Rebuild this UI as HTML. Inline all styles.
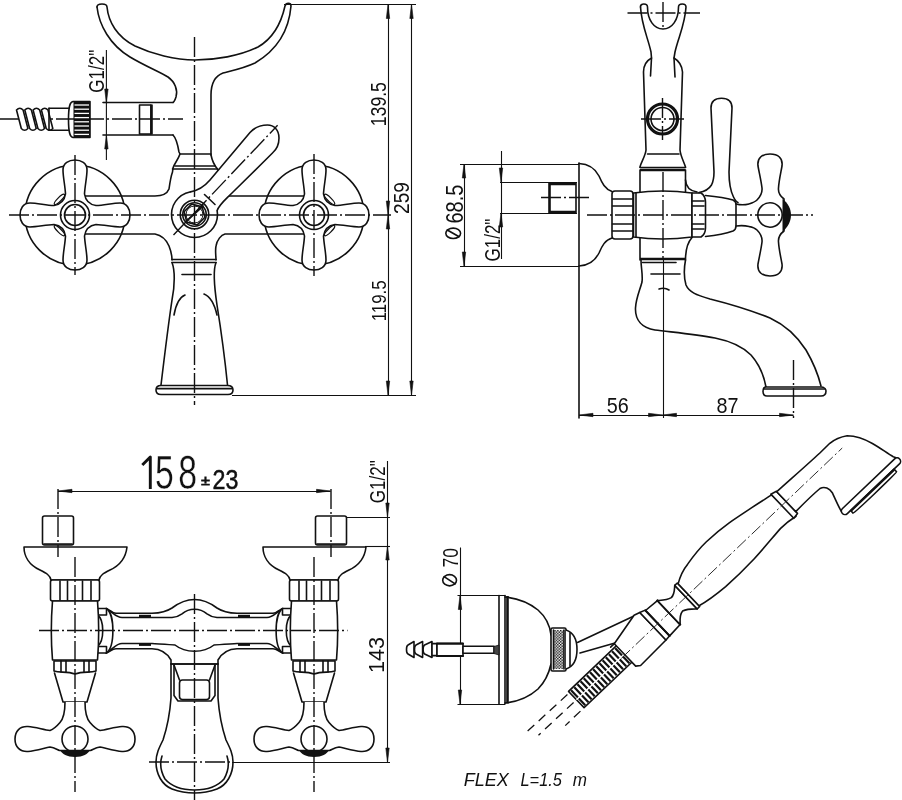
<!DOCTYPE html>
<html><head><meta charset="utf-8"><style>
html,body{margin:0;padding:0;background:#fff;width:902px;height:800px;overflow:hidden}
svg{display:block;filter:grayscale(1)}

.l{fill:none;stroke:#111;stroke-width:1.6;stroke-linejoin:round;stroke-linecap:round}
.lw{fill:#fff;stroke:#111;stroke-width:1.6;stroke-linejoin:round}
.t{fill:none;stroke:#111;stroke-width:2.6}
.wl{stroke:#fff;stroke-width:1.3}
.d{fill:none;stroke:#111;stroke-width:1.1}
.c{fill:none;stroke:#111;stroke-width:1.4;stroke-dasharray:20 3 2 3}
.cd{fill:none;stroke:#222;stroke-width:1;stroke-dasharray:7 3}
.ar{fill:#111;stroke:#111;stroke-width:0.6}
.fd{fill:none;stroke:#111;stroke-width:1.3;stroke-dasharray:9 6}
.cd2{fill:none;stroke:#222;stroke-width:0.9;stroke-dasharray:12 3 2 3}
.txb{font-family:"Liberation Sans",sans-serif;fill:#111;stroke:#fff;stroke-width:0.4}
.tx{font-family:"Liberation Sans",sans-serif;fill:#111}

</style></head><body>
<svg width="902" height="800" viewBox="0 0 902 800">
<rect width="902" height="800" fill="#fff"/>
<line x1="0" y1="119" x2="183" y2="119" class="c" />
<path d="M97,7 C97,3 107,3 107,7 C108.5,22 117,37 135,46 C152,54 175,60 195,60 C215,60 240,56 258,47 C272,39 281,24 285,6 C286,2.5 291,2.5 291,6 C289,30 277,50 255,63 C242,69 230,71 223,73 C215,76 211,84 211,95 L211,155" class="l" />
<path d="M97,7 C99,25 110,45 130,57 C145,66 160,72 168,77 C175,82 178,90 176,97 C175,100 174,102 173,102.5" class="l" />
<line x1="103" y1="102.5" x2="173" y2="102.5" class="l" />
<line x1="103" y1="135" x2="173" y2="135" class="l" />
<rect x="139.5" y="105" width="11.5" height="29" class="l"/>
<line x1="151.5" y1="104.5" x2="151.5" y2="134.5" class="t" />
<path d="M173,135 C176,138 178,146 179,152 L180,154 C178,160 174,164 173,168 L172.5,172 C171,176 170,182 169,189 C167,194 162,196 155,196 L75,196" class="l" />
<line x1="180" y1="154" x2="211" y2="154" class="l" />
<line x1="175" y1="166" x2="215" y2="166" class="l" />
<line x1="172.5" y1="169" x2="217.5" y2="169" class="l" />
<path d="M211,155 C212,160 214,165 217.5,169 L219,175" class="l" />
<path d="M215,196 L305,196" class="l" />
<path d="M75,234 L155,234 C160,235 166,239 169,246 C171,251 172,256 172,260" class="l" />
<path d="M305,234 L225,234 C221,235 217,240 216,246 C215,251 216,256 216,260" class="l" />
<circle cx="194.5" cy="214.5" r="23" class="lw" />
<path d="M190.5,191.85 C198,190.5 204,187 210,180 L250,132.5 C255,127 260,125 267.5,125 C274,125 279,130 279,138 C279,145 276,150 272.5,153 L232,193 C224,201 219,205 217.15,210.5 L194.5,214.5 Z" fill="#fff" stroke="none"/>
<path d="M190.5,191.85 C198,190.5 204,187 210,180 L250,132.5 C255,127 260,125 267.5,125 C274,125 279,130 279,138 C279,145 276,150 272.5,153 L232,193 C224,201 219,205 217.15,210.5" class="l" />
<line x1="204.5" y1="194.5" x2="215" y2="204.5" class="l" />
<circle cx="194.5" cy="214.5" r="14.25" class="l" />
<circle cx="194.5" cy="214.5" r="11.75" class="l" />
<polygon points="204.93,217.3 197.3,224.93 186.86,222.14 184.07,211.7 191.7,204.07 202.14,206.86" class="l"/>
<circle cx="194.5" cy="214.5" r="8.5" class="l" style="stroke-width:1"/>
<line x1="173.5" y1="235" x2="277.6" y2="125.3" class="c" />
<line x1="186" y1="221.5" x2="203" y2="206" class="l" style="stroke-width:1.8"/>
<circle cx="75" cy="215" r="50" class="l" />
<ellipse cx="59.44" cy="199.44" rx="7" ry="1.9" transform="rotate(315 59.44 199.44)" class="l" style="stroke-width:1.3"/>
<ellipse cx="59.44" cy="230.56" rx="7" ry="1.9" transform="rotate(225 59.44 230.56)" class="l" style="stroke-width:1.3"/>
<path d="M84.5,194 C85,185 87,177 87,170 C87,163 81,160 75,160 C69,160 63,163 63,170 C63,177 65,185 65.5,194 Q64,204 54,205.5 C45,205 37,203 30,203 C23,203 20,209 20,215 C20,221 23,227 30,227 C37,227 45,225 54,224.5 Q64,226 65.5,236 C65,245 63,253 63,260 C63,267 69,270 75,270 C81,270 87,267 87,260 C87,253 85,245 84.5,236 Q86,226 96,224.5 C105,225 113,227 120,227 C127,227 130,221 130,215 C130,209 127,203 120,203 C113,203 105,205 96,205.5 Q86,204 84.5,194 Z" class="lw" />
<circle cx="75" cy="215" r="14.5" class="l" />
<circle cx="75" cy="215" r="10.5" class="l" />
<circle cx="314" cy="215" r="50" class="l" />
<ellipse cx="329.56" cy="199.44" rx="7" ry="1.9" transform="rotate(405 329.56 199.44)" class="l" style="stroke-width:1.3"/>
<ellipse cx="329.56" cy="230.56" rx="7" ry="1.9" transform="rotate(135 329.56 230.56)" class="l" style="stroke-width:1.3"/>
<path d="M323.5,194 C324,185 326,177 326,170 C326,163 320,160 314,160 C308,160 302,163 302,170 C302,177 304,185 304.5,194 Q303,204 293,205.5 C284,205 276,203 269,203 C262,203 259,209 259,215 C259,221 262,227 269,227 C276,227 284,225 293,224.5 Q303,226 304.5,236 C304,245 302,253 302,260 C302,267 308,270 314,270 C320,270 326,267 326,260 C326,253 324,245 323.5,236 Q325,226 335,224.5 C344,225 352,227 359,227 C366,227 369,221 369,215 C369,209 366,203 359,203 C352,203 344,205 335,205.5 Q325,204 323.5,194 Z" class="lw" />
<circle cx="314" cy="215" r="14.5" class="l" />
<circle cx="314" cy="215" r="10.5" class="l" />
<line x1="172" y1="259.5" x2="216" y2="259.5" class="l" />
<line x1="172" y1="262.5" x2="216" y2="262.5" class="l" />
<line x1="182" y1="274.5" x2="211" y2="274.5" class="l" />
<path d="M172,262.5 C175,270 175,285 172,300 C169,320 164,360 161,385" class="l" />
<path d="M216,262.5 C213,270 214,285 217,305 C221,330 225,360 227.5,385" class="l" />
<path d="M185,295 C180,297 176,304 174,315" class="l" />
<path d="M204,294 C209,296 214,302 217,315" class="l" />
<path d="M161,385.5 C157.5,385.5 156,387.5 156,390 C156,392.5 157.5,394.5 161,394.5 L228,394.5 C231.5,394.5 233,392.5 233,390 C233,387.5 231,385.5 227.5,385.5 Z" class="l" />
<line x1="157" y1="388.6" x2="232" y2="388.6" class="l" />
<line x1="9" y1="215" x2="391" y2="215" class="c" />
<line x1="194.5" y1="37" x2="194.5" y2="405" class="c" />
<line x1="75" y1="155" x2="75" y2="275" class="c" />
<line x1="314" y1="154" x2="314" y2="276" class="c" />
<path d="M16.5,110 Q19.8,106.5 23.1,110 L27.9,128.5 Q24.6,132 21.3,128.5 Z" class="lw"/>
<path d="M24.8,110 Q28.1,106.5 31.4,110 L36.2,128.5 Q32.9,132 29.6,128.5 Z" class="lw"/>
<path d="M33.1,110 Q36.4,106.5 39.7,110 L44.5,128.5 Q41.2,132 37.9,128.5 Z" class="lw"/>
<path d="M41.4,110 Q44.7,106.5 48,110 L52.8,128.5 Q49.5,132 46.2,128.5 Z" class="lw"/>
<line x1="49" y1="108.2" x2="68.5" y2="108.2" class="l" />
<line x1="49" y1="130.2" x2="68.5" y2="130.2" class="l" />
<line x1="49" y1="108.2" x2="49" y2="130.2" class="l" />
<path d="M73,101.5 C70,102 68.5,106 68.5,119.5 C68.5,133 70,137 73,137.5 L90,137.5 L90,101.5 Z" class="l"/>
<rect x="73.5" y="101.5" width="16.5" height="36" fill="#111"/>
<line x1="74.5" y1="105" x2="89" y2="105" class="wl" />
<line x1="74.5" y1="109.2" x2="89" y2="109.2" class="wl" />
<line x1="74.5" y1="113.4" x2="89" y2="113.4" class="wl" />
<line x1="74.5" y1="117.6" x2="89" y2="117.6" class="wl" />
<line x1="74.5" y1="121.8" x2="89" y2="121.8" class="wl" />
<line x1="74.5" y1="126" x2="89" y2="126" class="wl" />
<line x1="74.5" y1="130.2" x2="89" y2="130.2" class="wl" />
<line x1="74.5" y1="134.4" x2="89" y2="134.4" class="wl" />
<line x1="106.4" y1="50" x2="106.4" y2="160" class="d" />
<path d="M106.4,103 L104.7,89 L108.1,89 Z" class="ar"/>
<path d="M106.4,135 L108.1,149 L104.7,149 Z" class="ar"/>
<line x1="103" y1="102.5" x2="108" y2="102.5" class="d" />
<text transform="translate(104,92.65) rotate(-90) scale(0.762,1)" font-size="22.3" text-anchor="start" class="tx" >G1/2"</text>
<line x1="284" y1="4.5" x2="416" y2="4.5" class="d" />
<line x1="232" y1="395.5" x2="416" y2="395.5" class="d" />
<line x1="388.5" y1="4.5" x2="388.5" y2="395" class="d" />
<line x1="411.5" y1="4.5" x2="411.5" y2="395" class="d" />
<path d="M388,4.5 L389.7,18.5 L386.3,18.5 Z" class="ar"/>
<path d="M388,215 L386.3,201 L389.7,201 Z" class="ar"/>
<path d="M388,215 L389.7,229 L386.3,229 Z" class="ar"/>
<path d="M388,395 L386.3,381 L389.7,381 Z" class="ar"/>
<path d="M411.5,4.5 L413.2,18.5 L409.8,18.5 Z" class="ar"/>
<path d="M411.5,395 L409.8,381 L413.2,381 Z" class="ar"/>
<text transform="translate(385.5,126.2) rotate(-90) scale(0.784,1)" font-size="22.5" text-anchor="start" class="tx" >139.5</text>
<text transform="translate(386,321.35) rotate(-90) scale(0.8,1)" font-size="21.1" text-anchor="start" class="tx" >119.5</text>
<text transform="translate(409,213.95) rotate(-90) scale(0.88,1)" font-size="21.7" text-anchor="start" class="tx" >259</text>
<line x1="579" y1="163" x2="579" y2="418" class="l" />
<line x1="460" y1="164.5" x2="579" y2="164.5" class="d" />
<line x1="460" y1="266.5" x2="579" y2="266.5" class="d" />
<line x1="464.5" y1="164" x2="464.5" y2="266" class="d" />
<path d="M464,164 L465.7,178 L462.3,178 Z" class="ar"/>
<path d="M464,266 L462.3,252 L465.7,252 Z" class="ar"/>
<text transform="translate(462.5,223.5) rotate(-90) scale(0.835,1)" font-size="23.9" text-anchor="start" class="tx" >68.5</text>
<ellipse cx="453.2" cy="233.3" rx="7.4" ry="5.2" class="l" style="stroke-width:1.6"/>
<line x1="447.28" y1="229.92" x2="459.12" y2="236.68" class="l" style="stroke-width:1.7"/>
<line x1="500" y1="182.5" x2="577" y2="182.5" class="d" />
<line x1="500" y1="213.5" x2="577" y2="213.5" class="d" />
<line x1="501.5" y1="151" x2="501.5" y2="259" class="d" />
<path d="M501,182 L499.3,168 L502.7,168 Z" class="ar"/>
<path d="M501,213 L502.7,227 L499.3,227 Z" class="ar"/>
<text transform="translate(500,261.45) rotate(-90) scale(0.762,1)" font-size="22.3" text-anchor="start" class="tx" >G1/2"</text>
<path d="M576,184 L549.5,184 L549.5,212 L576,212" fill="none" stroke="#111" stroke-width="2.6"/>
<line x1="576" y1="183" x2="576" y2="213" class="l" />
<line x1="541" y1="197.5" x2="590" y2="197.5" class="c" />
<path d="M579,163.5 C588,164 595,168 599,176 C602,183 605,189 612,191.5" class="l" />
<path d="M579,266 C588,265.5 595,261 599,253 C602,246 605,240 612,238" class="l" />
<rect x="612" y="191" width="21" height="48" rx="3" class="lw"/>
<line x1="612.5" y1="199" x2="632.5" y2="199" class="l" />
<line x1="612.5" y1="206" x2="632.5" y2="206" class="l" />
<line x1="612.5" y1="224" x2="632.5" y2="224" class="l" />
<line x1="612.5" y1="231" x2="632.5" y2="231" class="l" />
<path d="M640.5,7 C640,3 647.5,3 647.5,7 C647.5,20 654,29 663,29 C672,29 678.5,20 678.5,7 C678.5,3 686,3 686,7 C685,25 678,38 675,52 L674,58 C679,61 682,65 682.5,72 L680,150 C680.5,156 684,162 685.5,167" class="l" />
<path d="M640.5,7 C641.5,25 648,38 651,52 L651.5,58 C646,61 643.5,65 643.5,72 L646,150 C645.5,156 641,162 640,167" class="l" />
<line x1="651.5" y1="58" x2="650.5" y2="76" class="l" />
<line x1="674" y1="58" x2="675" y2="77" class="l" />
<circle cx="662.5" cy="119" r="15" class="l" style="stroke-width:3.2"/>
<circle cx="662.5" cy="119" r="11.5" class="l" />
<line x1="647.5" y1="154" x2="679" y2="154" class="l" />
<line x1="640" y1="167.5" x2="685.5" y2="167.5" class="l" />
<line x1="640" y1="170" x2="685.5" y2="170" class="t" />
<line x1="640" y1="170" x2="640" y2="260" class="l" />
<line x1="685.5" y1="170" x2="685.5" y2="192" class="l" />
<path d="M685.5,180 C686,187 690,191 697,192" class="l" />
<path d="M692,237.5 C688,242 685.5,249 685.5,260" class="l" />
<line x1="640" y1="259" x2="685.5" y2="259" class="t" />
<path d="M633.5,193 C655,190 670,190 692,193 L692,237 C670,240 655,240 633.5,237 Z" class="lw"/>
<line x1="636" y1="193" x2="636" y2="237" class="l" />
<path d="M692,193 L701,193 C704,195 705.5,198 705.5,202 L705.5,228 C705.5,232 704,235 701,237 L692,237 Z" class="lw"/>
<line x1="692" y1="201" x2="704" y2="201" class="l" />
<line x1="692" y1="206" x2="704" y2="206" class="l" />
<line x1="692" y1="224" x2="704" y2="224" class="l" />
<line x1="692" y1="229" x2="704" y2="229" class="l" />
<path d="M705.5,195.5 C715,196.5 726,198 733,200 C735,201 736,202 736,204 L736,226 C736,228 735,230 733,231 C726,233.5 715,235.5 705.5,236.5" class="l" />
<path d="M736,204 C740,205 745,205 749,204" class="l" />
<path d="M736,226 C740,225.5 745,225.5 749,226.5" class="l" />
<path d="M699,192.5 C705,191.5 709,189 711.5,185 C713.5,181 714,177 714,172 L711,108 C711,101 715,98.3 721.5,98.3 C728,98.3 732,101 732,108 L729,172 C729,180 730,190 733.5,197 C735,200 736.5,202 738,202.5" class="l" />
<path d="M749,204 C752,203 755,202 757,200 C761,196 762.5,193 762,188 C761,180 759,172 758,166 C757,158 762,154 770,154 C778,154 783,158 782,166 C781,172 779,180 778.5,188 C778,193 780,196 784,199 L784,231 C780,234 778,237 778.5,242 C779,250 781,258 782,264 C783,272 778,276 770,276 C762,276 757,272 758,264 C759,258 761,250 762,242 C762.5,237 761,234 757,230 C755,228 752,227 749,226.5" class="lw"/>
<circle cx="770" cy="215" r="12.2" class="l" />
<path d="M782.5,199 C788,203 791,209 791,215 C791,221 788,227 782.5,232 Z" fill="#111"/>
<line x1="642.5" y1="262.5" x2="676" y2="262.5" class="l" />
<line x1="651" y1="274" x2="680" y2="274" class="l" />
<path d="M659,289 C662,288 666,288 669,290" class="l" />
<path d="M641,260 C641,268 643,275 642,282 C640,290 636,298 635.5,308 C635,320 642,328 655,330 C670,332 695,334 715,338 C730,341 742,346 751,355 C759,364 764,376 766,387" class="l" />
<path d="M685.5,260 C684,268 684,278 686,285 C689,292 696,295 710,299 C730,304 750,310 770,318 C785,325 797,336 806,350 C813,362 818,374 821,386" class="l" />
<path d="M766,387 L821,387 C824,387 826,389 826,391 C826,394 824,396 821,396 L767,396 C764,396 763,394 763,391.5 C763,389 764,387 766,387 Z" class="lw"/>
<line x1="764" y1="389" x2="825" y2="389" class="l" />
<line x1="627.5" y1="13" x2="700" y2="13" class="c" />
<line x1="663" y1="2" x2="663" y2="30" class="c" />
<line x1="641" y1="119" x2="684" y2="119" class="c" />
<line x1="662.5" y1="98" x2="662.5" y2="140" class="c" />
<line x1="587" y1="215" x2="813" y2="215" class="c" />
<line x1="663" y1="172" x2="663" y2="259" class="c" />
<line x1="663.5" y1="259" x2="663.5" y2="418" class="d" />
<line x1="793.5" y1="360" x2="793.5" y2="418" class="c" />
<line x1="579" y1="415.5" x2="793.5" y2="415.5" class="d" />
<path d="M579,415 L593,413.3 L593,416.7 Z" class="ar"/>
<path d="M662.5,415 L648.5,416.7 L648.5,413.3 Z" class="ar"/>
<path d="M662.5,415 L676.5,413.3 L676.5,416.7 Z" class="ar"/>
<path d="M793.5,415 L779.5,416.7 L779.5,413.3 Z" class="ar"/>
<text transform="translate(606.7,412.5) scale(0.89,1)" font-size="22.25" text-anchor="start" class="tx" >56</text>
<text transform="translate(716.4,412.5) scale(0.89,1)" font-size="22.25" text-anchor="start" class="tx" >87</text>
<path d="M106,608.5 C110,609.5 112,613.3 116,613.3 L152,613.3 C160,613 166,612 172,608 C180,602 187,599.5 194.5,599.5 C202,599.5 209,602 217,608 C223,612 229,613 237,613.3 L273,613.3 C277,613.3 279,609.5 283,608.5" class="l" />
<path d="M110,611 C114,614 117,617.5 122,617.5 L172,617.5 C176,617.3 179,616 182,613.8 C186,610.5 190,609.3 194.5,609.3 C199,609.3 203,610.5 207,613.8 C210,616 213,617.3 217,617.5 L267,617.5 C272,617.5 275,614 279,611" class="l" />
<path d="M110,650.5 C114,647.5 117,643.5 122,643.5 L152,643.5 C160,644 170,644.5 175,645 C180,649 187,651.2 194.5,651.2 C202,651.2 209,649 214,645 C219,644.5 229,644 237,643.5 L267,643.5 C272,643.5 275,647.5 279,650.5" class="l" />
<path d="M106,653 C110,652 112,648.8 116,648.8 L152,648.8 C160,649 167,653 171,660 L171,664" class="l" />
<path d="M283,653 C279,652 277,648.8 273,648.8 L237,648.8 C229,649 222,653 218,660 L218,664" class="l" />
<rect x="139" y="614.8" width="12" height="2.4" fill="#111"/>
<rect x="139" y="643.5" width="12" height="2.4" fill="#111"/>
<rect x="238" y="614.8" width="12" height="2.4" fill="#111"/>
<rect x="238" y="643.5" width="12" height="2.4" fill="#111"/>
<rect x="42.5" y="516" width="31" height="29" rx="2" class="lw"/>
<line x1="44" y1="544" x2="72" y2="544" class="l" />
<path d="M24,547 L127,547 C126,556 121,565 110,570 C104,573 100,575 99,580 L51,580 C50,575 46,573 40,570 C29,565 24,556 24,547 Z" class="lw" />
<rect x="50.5" y="580" width="49" height="21" rx="2" class="lw"/>
<line x1="60" y1="581" x2="60" y2="600" class="l" />
<line x1="67.5" y1="581" x2="67.5" y2="600" class="l" />
<line x1="82.5" y1="581" x2="82.5" y2="600" class="l" />
<line x1="91" y1="581" x2="91" y2="600" class="l" />
<path d="M97.5,608.5 L106.5,608.5 L106.5,615 L97.5,615 Z" class="lw"/>
<path d="M97.5,646.5 L106.5,646.5 L106.5,653 L97.5,653 Z" class="lw"/>
<path d="M97.5,615 C104.5,620 104.5,641 97.5,646.5" class="l" />
<path d="M106.5,608.5 C115,614 115,647 106.5,653" class="l" />
<path d="M52.5,601 C51,620 51,642 52.5,660 L97.5,660 C99,642 99,620 97.5,601 Z" class="lw" />
<path d="M54,661 L96,661 L96,671 C90,673 83,671 75,674 C67,671 60,673 54,671 Z" class="lw"/>
<line x1="61" y1="661" x2="61" y2="672" class="l" />
<line x1="66" y1="661" x2="66" y2="672" class="l" />
<line x1="84" y1="661" x2="84" y2="672" class="l" />
<line x1="89" y1="661" x2="89" y2="672" class="l" />
<path d="M54.5,673 L63,702 L87,702 L95.5,673" class="l" />
<path d="M65,702 C65,712 64,718 60,722.5 C57,726 54,729 50,730.5 C43,729.5 35,727 28,726.5 C20,726 15,731 15,739 C15,747 20,752 28,751.5 C35,751 43,748.5 50,747 C54,747.5 57,749.5 59.5,750.5 L90.5,750.5 C93,749.5 96,747.5 100,747 C107,748.5 115,751 122,751.5 C130,752 135,747 135,739 C135,731 130,726 122,726.5 C115,727 107,729.5 100,730.5 C96,729 93,726 90,722.5 C86,718 85,712 85,702 " class="lw" />
<circle cx="75" cy="739" r="13" class="l" />
<path d="M60,750 L90,750 C88,754 83,757 75,757 C67,757 62,754 60,750 Z" fill="#111"/>
<line x1="58" y1="489" x2="58" y2="557" class="c" />
<line x1="75" y1="557" x2="75" y2="792" class="c" />
<rect x="315.5" y="516" width="31" height="29" rx="2" class="lw"/>
<line x1="317" y1="544" x2="345" y2="544" class="l" />
<path d="M263,547 L366,547 C365,556 360,565 349,570 C343,573 339,575 338,580 L290,580 C289,575 285,573 279,570 C268,565 263,556 263,547 Z" class="lw" />
<rect x="289.5" y="580" width="49" height="21" rx="2" class="lw"/>
<line x1="299" y1="581" x2="299" y2="600" class="l" />
<line x1="306.5" y1="581" x2="306.5" y2="600" class="l" />
<line x1="321.5" y1="581" x2="321.5" y2="600" class="l" />
<line x1="330" y1="581" x2="330" y2="600" class="l" />
<path d="M291.5,608.5 L282.5,608.5 L282.5,615 L291.5,615 Z" class="lw"/>
<path d="M291.5,646.5 L282.5,646.5 L282.5,653 L291.5,653 Z" class="lw"/>
<path d="M291.5,615 C284.5,620 284.5,641 291.5,646.5" class="l" />
<path d="M282.5,608.5 C274,614 274,647 282.5,653" class="l" />
<path d="M291.5,601 C290,620 290,642 291.5,660 L336.5,660 C338,642 338,620 336.5,601 Z" class="lw" />
<path d="M293,661 L335,661 L335,671 C329,673 322,671 314,674 C306,671 299,673 293,671 Z" class="lw"/>
<line x1="300" y1="661" x2="300" y2="672" class="l" />
<line x1="305" y1="661" x2="305" y2="672" class="l" />
<line x1="323" y1="661" x2="323" y2="672" class="l" />
<line x1="328" y1="661" x2="328" y2="672" class="l" />
<path d="M293.5,673 L302,702 L326,702 L334.5,673" class="l" />
<path d="M304,702 C304,712 303,718 299,722.5 C296,726 293,729 289,730.5 C282,729.5 274,727 267,726.5 C259,726 254,731 254,739 C254,747 259,752 267,751.5 C274,751 282,748.5 289,747 C293,747.5 296,749.5 298.5,750.5 L329.5,750.5 C332,749.5 335,747.5 339,747 C346,748.5 354,751 361,751.5 C369,752 374,747 374,739 C374,731 369,726 361,726.5 C354,727 346,729.5 339,730.5 C335,729 332,726 329,722.5 C325,718 324,712 324,702 " class="lw" />
<circle cx="314" cy="739" r="13" class="l" />
<path d="M299,750 L329,750 C327,754 322,757 314,757 C306,757 301,754 299,750 Z" fill="#111"/>
<line x1="331" y1="489" x2="331" y2="557" class="c" />
<line x1="314" y1="557" x2="314" y2="792" class="c" />
<path d="M171,664 L171,698 C170,712 167,728 163,740 C159,748 156,754 156,762 C156,774 162,785 172,789 C180,792 187,793 194.5,793 C202,793 209,792 217,789 C227,785 233,774 233,762 C233,754 230,748 226,740 C222,728 219,712 218,698 L218,664 Z" class="lw" />
<line x1="171" y1="664" x2="218" y2="664" class="l" />
<path d="M174,665 L174,695.5 L178,701 L211,701 L215,695.5 L215,665" class="l" />
<rect x="179.5" y="680" width="30" height="19.6" rx="3" class="l"/>
<line x1="174" y1="665" x2="179.5" y2="680" class="l" />
<line x1="215" y1="665" x2="209.5" y2="680" class="l" />
<path d="M162,756 C160,762 160,770 165,779 C171,786 182,790 194.5,790 C207,790 218,786 224,779 C229,770 229,762 227,756" class="l" />
<line x1="39" y1="630.5" x2="347.5" y2="630.5" class="c" />
<line x1="194.5" y1="594" x2="194.5" y2="800" class="c" />
<line x1="149" y1="762" x2="232" y2="762" class="c" />
<line x1="232" y1="762.5" x2="390" y2="762.5" class="d" />
<line x1="58" y1="491.5" x2="330.5" y2="491.5" class="d" />
<path d="M58,491 L72,489.3 L72,492.7 Z" class="ar"/>
<path d="M330.5,491 L316.5,492.7 L316.5,489.3 Z" class="ar"/>
<path d="M142.3,465 L150.3,457 L150.3,488.9" class="l" style="stroke-width:2.9;stroke-linecap:butt;stroke-linejoin:round"/>
<text transform="translate(154.95,488.9) scale(0.716,1)" font-size="47.2" text-anchor="start" class="txb" >5</text>
<text transform="translate(178.15,488.9) scale(0.716,1)" font-size="47.2" text-anchor="start" class="txb" >8</text>
<text transform="translate(201.3,485.2) scale(1.17,1)" font-size="13.2" text-anchor="start" class="tx" style="stroke:#111;stroke-width:0.9">±</text>
<text transform="translate(212.5,488.9) scale(0.845,1)" font-size="27.5" text-anchor="start" class="tx" style="stroke:#111;stroke-width:0.5">23</text>
<line x1="346" y1="517.5" x2="390" y2="517.5" class="d" />
<line x1="365" y1="546.5" x2="390" y2="546.5" class="d" />
<line x1="387.5" y1="461" x2="387.5" y2="762" class="d" />
<path d="M387.5,517 L385.8,503 L389.2,503 Z" class="ar"/>
<path d="M387.5,546 L389.2,560 L385.8,560 Z" class="ar"/>
<path d="M387.5,762 L385.8,748 L389.2,748 Z" class="ar"/>
<text transform="translate(384.8,503.15) rotate(-90) scale(0.762,1)" font-size="22.3" text-anchor="start" class="tx" >G1/2"</text>
<text transform="translate(384.4,673.1) rotate(-90) scale(0.975,1)" font-size="22.25" text-anchor="start" class="tx" >143</text>
<line x1="457.5" y1="595.5" x2="505" y2="595.5" class="d" />
<line x1="457.5" y1="704.5" x2="505" y2="704.5" class="d" />
<line x1="460.5" y1="547.5" x2="460.5" y2="704" class="d" />
<path d="M460,595.5 L461.7,609.5 L458.3,609.5 Z" class="ar"/>
<path d="M460,704 L458.3,690 L461.7,690 Z" class="ar"/>
<text transform="translate(457.5,567.5) rotate(-90) scale(0.78,1)" font-size="22.5" text-anchor="start" class="tx" >70</text>
<ellipse cx="449.6" cy="580.25" rx="6.9" ry="5.6" class="l" style="stroke-width:1.6"/>
<line x1="444.08" y1="576.61" x2="455.12" y2="583.89" class="l" style="stroke-width:1.7"/>
<line x1="499" y1="595.5" x2="499" y2="704" class="l" />
<line x1="505" y1="595.5" x2="505" y2="704" class="l" />
<line x1="507.5" y1="596" x2="507.5" y2="703.5" class="t" />
<path d="M505,597 C515,598 528,602 538,610 C546,617 550,626 551,635" class="l" />
<path d="M505,703 C515,702 528,698 538,689 C545,682 549,673 551,664" class="l" />
<rect x="551" y="628" width="15" height="43" rx="1.5" class="lw"/>
<defs><pattern id="kn" width="2.8" height="2.8" patternUnits="userSpaceOnUse"><rect width="2.8" height="2.8" fill="#fff"/><rect width="1.4" height="1.4" fill="#111"/><rect x="1.4" y="1.4" width="1.4" height="1.4" fill="#111"/></pattern></defs>
<rect x="553.5" y="630" width="10.5" height="39" fill="url(#kn)"/>
<line x1="553.5" y1="630" x2="553.5" y2="669" class="l" />
<line x1="564" y1="630" x2="564" y2="669" class="l" />
<path d="M566,630 C572,632 577,638 577,649.5 C577,661 572,667 566,669" class="lw" />
<line x1="570" y1="633" x2="570" y2="666" class="l" />
<path d="M408,645 C406,646 406,653 408,654 L414,657.5 L414,641.5 Z" class="lw" />
<path d="M416,645 C414,646 414,653 416,654 L422.6,657.5 L422.6,641.5 Z" class="lw" />
<path d="M424.6,645 C422.6,646 422.6,653 424.6,654 L432,657.5 L432,641.5 Z" class="lw" />
<rect x="432" y="643.6" width="5" height="12" class="lw"/>
<rect x="437" y="643.6" width="26" height="12.5" class="lw"/>
<line x1="437" y1="643.6" x2="463" y2="643.6" class="l" style="stroke-width:2"/>
<line x1="437" y1="656.1" x2="463" y2="656.1" class="l" style="stroke-width:2"/>
<rect x="463" y="646.3" width="31" height="7" class="lw"/>
<path d="M494,646.5 L499,645 L499,655 L494,653.5 Z" fill="#444" stroke="#111" stroke-width="0.8"/>
<line x1="577.5" y1="642.5" x2="634" y2="616" class="l" />
<line x1="580" y1="653" x2="615" y2="643" class="l" />
<g transform="translate(626,656) rotate(-43.6)">
<line x1="-69" y1="-12.5" x2="-125" y2="-13.5" class="fd" />
<line x1="-70" y1="-2.5" x2="-118" y2="-3" class="fd" />
<line x1="-71" y1="8.5" x2="-92" y2="8.5" class="fd" />
<rect x="-66" y="-14" width="67" height="22.5" class="lw"/>
<rect x="-64.5" y="-13" width="2.2" height="20.5" fill="#111"/>
<rect x="-60.15" y="-13" width="2.2" height="20.5" fill="#111"/>
<rect x="-55.8" y="-13" width="2.2" height="20.5" fill="#111"/>
<rect x="-51.45" y="-13" width="2.2" height="20.5" fill="#111"/>
<rect x="-47.1" y="-13" width="2.2" height="20.5" fill="#111"/>
<rect x="-42.75" y="-13" width="2.2" height="20.5" fill="#111"/>
<rect x="-38.4" y="-13" width="2.2" height="20.5" fill="#111"/>
<rect x="-34.05" y="-13" width="2.2" height="20.5" fill="#111"/>
<rect x="-29.7" y="-13" width="2.2" height="20.5" fill="#111"/>
<rect x="-25.35" y="-13" width="2.2" height="20.5" fill="#111"/>
<rect x="-21" y="-13" width="2.2" height="20.5" fill="#111"/>
<rect x="-16.65" y="-13" width="2.2" height="20.5" fill="#111"/>
<rect x="-12.3" y="-13" width="2.2" height="20.5" fill="#111"/>
<rect x="-7.95" y="-13" width="2.2" height="20.5" fill="#111"/>
<rect x="-3.6" y="-13" width="2.2" height="20.5" fill="#111"/>
<line x1="-66" y1="-2.5" x2="1" y2="-2.5" class="wl" />
<path d="M0,-17 L0,14 L4,17 L40,16 L40,-22 L34,-24 Z" class="lw"/>
<line x1="-5" y1="-17" x2="0" y2="-17" class="l" />
<path d="M40,-22 L45.5,-20 L45.5,15.5 L40,16 Z" class="lw"/>
<path d="M45.5,-19.5 L61,-18.5 L61,14.5 L45.5,15.5 Z" class="lw"/>
<line x1="61" y1="-18.5" x2="61" y2="14.5" class="l" style="stroke-width:2.2"/>
<line x1="45.5" y1="-19.5" x2="45.5" y2="15.5" class="l" style="stroke-width:2"/>
<path d="M61,-18.5 C64,-16 68,-12 73,-11 C78,-11 81,-15 84,-17.5 L84,15 C81,12 77,8 72,6.5 C67,7 64,11 61,14.5 Z" class="lw"/>
<rect x="84" y="-17.5" width="3.5" height="32.5" class="lw"/>
<path d="M87.5,-16.3 C95,-21 100,-23 108,-24 C118,-26 127,-27.3 137,-27.3 C150,-27.3 158,-26.5 166.6,-25.3 C178,-23.5 186,-22 193.4,-20.7 C203,-19 210,-17.5 216.5,-16.3 L219.5,16 C212,14.5 206,14 200,14.2 C190,15 175,17 160,18 C145,18.8 130,18.8 120,18.5 C105,17.5 95,16 87.5,14 Z" class="lw"/>
<path d="M216.5,-17.3 L222.5,-15.5 L222.5,15 L216.5,16 Z" class="lw"/>
<path d="M222.5,-15 C240,-14.5 265,-13.5 280,-13.3 L294.3,-13.5 C300,-13 306,-11 312,-7 C318,-1 322,6 325,16 C328,26 329,34 331,40 L333,44 L333,47 L256,47 L255.6,44 C257,38 260,30 262,24 C263,19 261,14 256,12.5 C248,12 236,12 222.5,12.5 Z" class="lw"/>
<rect x="255" y="42.5" width="79" height="7" rx="3.5" class="lw"/>
<path d="M263,49.5 L323,49.5 L323,53.5 C323,54 263,54 263,53.5 Z" class="lw"/>
<line x1="264" y1="50.2" x2="322" y2="50.2" class="l" style="stroke-width:1.8"/>
<line x1="-5" y1="-1.5" x2="300" y2="-1.5" class="cd2" />
</g>
<text transform="translate(463.8,786)" font-size="18" text-anchor="start" class="tx" font-style="italic">FLEX</text>
<text transform="translate(520.5,786) scale(0.91,1)" font-size="18" text-anchor="start" class="tx" font-style="italic">L=1.5</text>
<text transform="translate(572.7,786) scale(0.95,1)" font-size="18" text-anchor="start" class="tx" font-style="italic">m</text>
</svg>
</body></html>
